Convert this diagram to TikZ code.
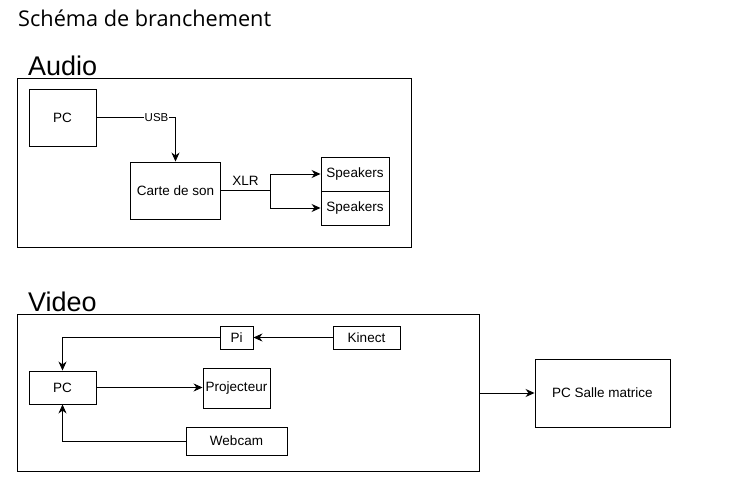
\documentclass[tikz,border=0pt]{standalone}
\usepackage{fontspec}
\setmainfont{Liberation Sans}
\newfontfamily\titlefont{Open Sans}
\usetikzlibrary{arrows.meta}

\tikzset{
  box/.style={draw, line width=0.9pt, inner sep=0pt, font=\fontsize{13.5}{15}\selectfont},
  frame/.style={draw, line width=0.9pt, inner sep=0pt},
  link/.style={line width=0.9pt, -{Stealth[length=9pt,width=8pt]}},
  plain/.style={line width=0.9pt},
  section/.style={anchor=base west, inner sep=0pt, font=\fontsize{27}{30}\selectfont}
}

\begin{document}
\begin{tikzpicture}[x=1pt, y=-1pt]
  \useasboundingbox (0,0) rectangle (742,502);

  % Title
  \node[anchor=base west, inner sep=0pt, font=\titlefont\fontsize{21.7}{24}\selectfont] (title) at (18,27) {Schéma de branchement};

  % Audio part
  \node[section] (audiolabel) at (28,76) {Audio};
  \node[frame, minimum width=394pt, minimum height=169pt] (audioframe) at (214,162.5) {};
  \node[box, minimum width=67pt, minimum height=57pt] (pcA) at (62.5,117.5) {PC};
  \node[box, minimum width=90pt, minimum height=57pt] (carte) at (175.5,190.5) {Carte de son};
  \node[box, minimum width=68pt, minimum height=34pt] (spk1) at (355,174) {Speakers};
  \node[box, minimum width=68pt, minimum height=34pt] (spk2) at (355,208) {Speakers};
  \coordinate (split) at (270,190.5);

  \draw[link] (pcA.east) -| node[pos=0.38, fill=white, inner sep=0.5pt, font=\fontsize{11.5}{13}\selectfont] (usb) {USB} (carte.north);
  \draw[plain] (carte.east) -- node[above=1pt, font=\fontsize{13.5}{15}\selectfont] (xlr) {XLR} (split);
  \draw[link] (split) |- (spk1.west);
  \draw[link] (split) |- (spk2.west);

  % Video part
  \node[section] (videolabel) at (28,312) {Video};
  \node[frame, minimum width=462pt, minimum height=157pt] (videoframe) at (248,393) {};
  \node[box, minimum width=33pt, minimum height=23pt] (pi) at (236.5,337.5) {Pi};
  \node[box, minimum width=67pt, minimum height=23pt] (kinect) at (366.5,337.5) {Kinect};
  \node[box, minimum width=67pt, minimum height=33pt] (pcV) at (62.5,387.5) {PC};
  \node[box, minimum width=67pt, minimum height=40pt] (proj) at (236.5,388) {Projecteur};
  \node[box, minimum width=101pt, minimum height=28pt] (webcam) at (236.5,441) {Webcam};
  \node[box, minimum width=135pt, minimum height=68pt] (salle) at (602.5,393) {PC Salle matrice};

  \draw[link] (kinect.west) -- (pi.east);
  \draw[link] (pi.west) -| (pcV.north);
  \draw[link] (pcV.east) -- (pcV.east -| proj.west);
  \draw[link] (webcam.west) -| (pcV.south);
  \draw[link] (videoframe.east) -- (salle.west);

\end{tikzpicture}
\end{document}
